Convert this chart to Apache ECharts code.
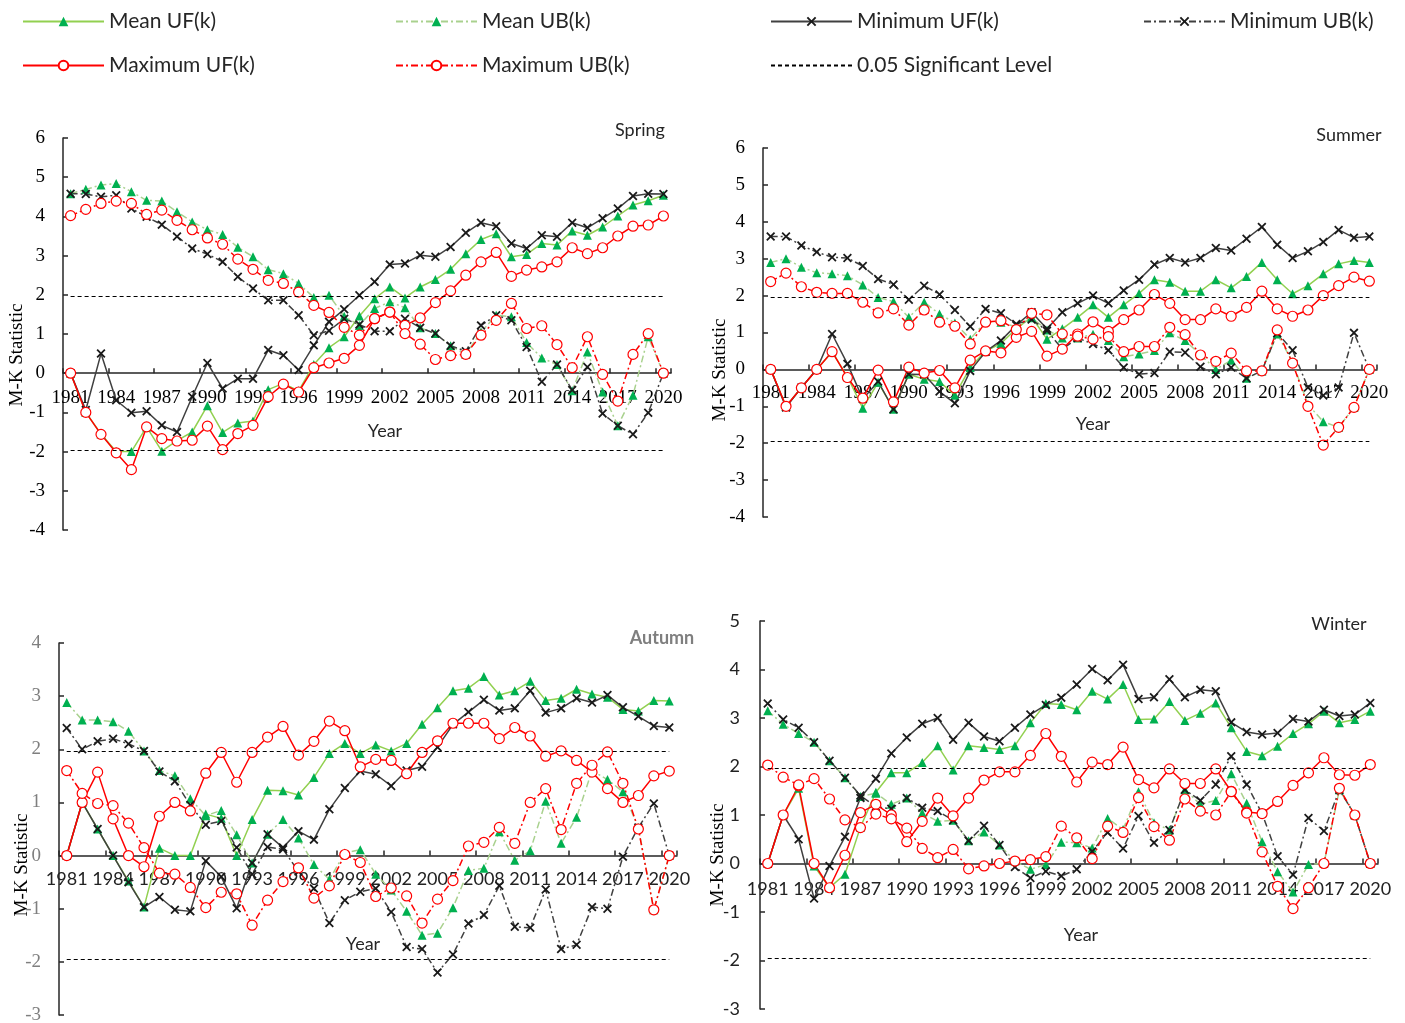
<!DOCTYPE html>
<html><head><meta charset="utf-8">
<script src="https://cdn.jsdelivr.net/npm/echarts@6/dist/echarts.min.js"></script>
<style>html,body{margin:0;padding:0;background:#fff}#c{width:1405px;height:1023px}</style>
</head><body><div id="c"></div>
<script>
const years = ['1981','1982','1983','1984','1985','1986','1987','1988','1989','1990','1991','1992','1993','1994','1995','1996','1997','1998','1999','2000','2001','2002','2003','2004','2005','2006','2007','2008','2009','2010','2011','2012','2013','2014','2015','2016','2017','2018','2019','2020'];
const sigLevel = 1.96;

const springMeanUF = [0,-1,-1.55,-2,-2,-1.37,-1.99,-1.72,-1.5,-0.83,-1.51,-1.27,-1.22,-0.42,-0.26,-0.45,0.22,0.65,0.93,1.46,1.9,2.2,1.92,2.2,2.39,2.65,3.05,3.41,3.56,2.97,3.03,3.31,3.27,3.63,3.52,3.73,4.01,4.29,4.4,4.54];
const springMeanUB = [4.58,4.69,4.8,4.84,4.63,4.41,4.39,4.12,3.86,3.66,3.54,3.21,2.97,2.64,2.54,2.29,1.93,1.99,1.45,1.22,1.65,1.82,1.67,1.16,1.01,0.7,0.48,1.05,1.48,1.44,0.78,0.39,0.22,-0.45,0.54,-0.48,-1.34,-0.56,0.93,0];
const springMinUF = [0,-0.94,0.5,-0.69,-1.01,-0.97,-1.33,-1.5,-0.6,0.26,-0.39,-0.14,-0.14,0.59,0.46,0.08,0.71,1.31,1.63,1.99,2.33,2.77,2.8,3.01,2.97,3.22,3.58,3.84,3.75,3.31,3.18,3.52,3.48,3.84,3.71,3.95,4.2,4.52,4.58,4.57];
const springMinUB = [4.58,4.57,4.5,4.54,4.2,3.99,3.79,3.49,3.18,3.04,2.84,2.46,2.16,1.86,1.86,1.48,0.97,1.08,1.39,1.24,1.07,1.07,1.39,1.16,1.01,0.7,0.56,1.22,1.48,1.35,0.67,-0.22,0.22,-0.43,0.16,-1.03,-1.34,-1.56,-1.01,0];
const springMaxUF = [0,-1,-1.56,-2.03,-2.46,-1.37,-1.67,-1.73,-1.71,-1.35,-1.95,-1.54,-1.33,-0.6,-0.28,-0.48,0.14,0.26,0.38,0.71,1.39,1.56,1.22,1.41,1.8,2.1,2.5,2.84,3.08,2.47,2.63,2.71,2.84,3.2,3.05,3.2,3.5,3.75,3.78,4.01];
const springMaxUB = [4.02,4.18,4.33,4.39,4.33,4.05,4.16,3.9,3.66,3.45,3.29,2.91,2.65,2.37,2.29,2.07,1.73,1.55,1.17,0.97,1.39,1.56,1.01,0.74,0.35,0.45,0.48,0.97,1.35,1.78,1.14,1.21,0.73,0.14,0.93,-0.03,-0.71,0.48,1.01,0];

const summerMeanUF = [0,-1,-0.5,0,0.48,-0.2,-1.05,-0.35,-1.08,-0.13,-0.27,-0.33,-0.7,0.05,0.5,0.7,1.1,1.42,0.82,1.1,1.41,1.75,1.41,1.75,2.06,2.43,2.36,2.12,2.12,2.43,2.21,2.52,2.9,2.43,2.05,2.27,2.59,2.86,2.95,2.9];
const summerMeanUB = [2.9,3,2.77,2.62,2.59,2.54,2.29,1.95,1.84,1.41,1.82,1.5,1.26,0.82,1.3,1.28,1.15,1.4,1.07,0.85,0.85,0.95,0.78,0.34,0.42,0.51,0.99,0.78,0.4,0,0.25,-0.24,-0.04,0.96,0.2,-0.95,-1.42,-1.57,-1.03,0];
const summerMinUF = [0,-1.03,-0.49,0,0.96,0.15,-0.8,-0.33,-1.08,-0.13,-0.14,-0.6,-0.92,-0.04,0.48,0.78,1.2,1.55,1.1,1.55,1.79,2,1.79,2.14,2.43,2.84,3.02,2.9,3.02,3.29,3.22,3.54,3.86,3.38,3.02,3.2,3.45,3.78,3.57,3.6];
const summerMinUB = [3.6,3.6,3.36,3.18,3.04,3.02,2.8,2.45,2.3,1.89,2.27,2.03,1.61,1.16,1.64,1.52,1.23,1.35,1.05,0.55,0.85,0.69,0.52,0.05,-0.13,-0.1,0.48,0.46,0.07,-0.13,0.05,-0.24,-0.04,0.98,0.52,-0.49,-0.71,-0.49,0.99,0];
const summerMaxUF = [0,-1,-0.5,0,0.48,-0.22,-0.78,-0.02,-0.88,0.06,-0.1,-0.03,-0.5,0.25,0.5,0.45,0.87,1.03,0.36,0.55,0.96,1.29,1.03,1.35,1.61,2.03,1.79,1.35,1.35,1.64,1.44,1.68,2.12,1.64,1.44,1.61,2,2.27,2.5,2.39];
const summerMaxUB = [2.38,2.61,2.24,2.09,2.06,2.06,1.82,1.53,1.64,1.2,1.61,1.28,1.17,0.69,1.28,1.32,1.08,1.52,1.48,0.96,0.9,0.82,0.89,0.48,0.62,0.62,1.14,0.94,0.39,0.22,0.44,-0.04,-0.04,1.07,0.17,-1,-2.05,-1.57,-1.03,0];

const autumnMeanUF = [0,1,0.5,0,-0.48,-0.97,0.14,0,0,0.78,0.7,0,0.68,1.23,1.22,1.14,1.47,1.92,2.11,1.92,2.08,1.97,2.11,2.47,2.78,3.1,3.15,3.37,3.02,3.1,3.28,2.92,2.96,3.13,3.04,2.98,2.75,2.72,2.92,2.91];
const autumnMeanUB = [2.88,2.55,2.55,2.52,2.34,1.97,1.6,1.5,1.07,0.75,0.85,0.39,-0.14,0.4,0.68,0.33,-0.17,-0.45,0.05,0.11,-0.35,-0.65,-1.05,-1.5,-1.46,-0.98,-0.28,-0.24,0.45,-0.09,0.09,1.02,0.23,0.72,1.6,1.43,1.2,0.53,-1.02,0];
const autumnMinUF = [0,1,0.5,0,-0.5,-0.97,-0.78,-1.02,-1.05,-0.1,-0.4,-0.99,-0.14,0.4,0.15,0.46,0.3,0.87,1.27,1.59,1.53,1.31,1.6,1.67,2.04,2.47,2.7,2.93,2.73,2.77,3.1,2.69,2.77,2.96,2.88,3.02,2.79,2.62,2.44,2.41];
const autumnMinUB = [2.4,2,2.15,2.2,2.1,1.97,1.58,1.4,0.95,0.58,0.65,0.15,-0.35,0.16,0.12,-0.3,-0.62,-1.27,-0.84,-0.68,-0.62,-1.06,-1.72,-1.76,-2.2,-1.86,-1.28,-1.12,-0.57,-1.34,-1.36,-0.64,-1.76,-1.68,-0.97,-1,-0.02,0.53,0.98,0];
const autumnMaxUF = [0,1,1.57,0.69,0,-0.21,0.74,1,0.84,1.55,1.94,1.38,1.94,2.23,2.43,1.89,2.15,2.53,2.35,1.67,1.81,1.79,1.54,1.94,2.16,2.49,2.49,2.49,2.2,2.41,2.25,1.87,1.97,1.79,1.57,1.26,1,1.13,1.5,1.59];
const autumnMaxUB = [1.6,1.17,0.98,0.94,0.61,0.15,-0.33,-0.35,-0.6,-0.98,-0.69,-0.72,-1.31,-0.84,-0.49,-0.23,-0.8,-0.57,0.02,-0.13,-0.77,-0.61,-0.76,-1.27,-0.82,-0.47,0.18,0.25,0.53,0.23,1,1.26,0.49,1.36,1.7,1.95,1.36,0.5,-1.02,0];

const winterMeanUF = [0,1,1.55,-0.05,-0.5,-0.22,0.75,1.47,1.87,1.87,2.08,2.43,1.93,2.43,2.39,2.35,2.43,2.9,3.3,3.28,3.17,3.55,3.39,3.69,2.97,2.98,3.34,2.95,3.1,3.31,2.8,2.31,2.22,2.42,2.68,2.88,3.14,2.9,2.97,3.14];
const winterMeanUB = [3.15,2.87,2.68,2.5,2.12,1.77,1.38,1.45,1.22,1.35,1.04,0.87,0.89,0.47,0.65,0.38,0.05,-0.12,-0.02,0.44,0.43,0.32,0.93,0.7,1.48,0.84,0.69,1.52,1.22,1.3,1.85,1.24,0.45,-0.17,-0.59,-0.02,0,1.52,1,0];
const winterMinUF = [0,1,0.5,-0.72,-0.05,0.55,1.35,1.75,2.27,2.6,2.88,3,2.55,2.9,2.62,2.52,2.8,3.07,3.27,3.42,3.69,4.01,3.78,4.1,3.39,3.43,3.8,3.43,3.58,3.55,2.91,2.71,2.66,2.69,2.98,2.93,3.17,3.04,3.07,3.31];
const winterMinUB = [3.3,2.97,2.8,2.5,2.12,1.77,1.4,1.17,1.13,1.35,1.15,1.08,0.89,0.47,0.78,0.38,-0.07,-0.3,-0.16,-0.26,-0.12,0.25,0.64,0.31,0.98,0.43,0.69,1.52,1.3,1.63,2.21,1.63,1.03,0.15,-0.23,0.94,0.67,1.52,1,0];
const winterMaxUF = [0,1,1.6,0,-0.5,0.17,1.05,1.22,1,0.45,0.87,1.35,0.98,1.35,1.72,1.89,1.89,2.23,2.68,2.21,1.68,2.09,2.04,2.4,1.73,1.56,1.95,1.65,1.65,1.95,1.49,1.06,1.03,1.28,1.61,1.87,2.18,1.83,1.82,2.04];
const winterMaxUB = [2.03,1.78,1.62,1.75,1.33,0.9,0.74,1.02,0.92,0.73,0.31,0.12,0.29,-0.11,-0.05,0,0.05,0.08,0.14,0.77,0.53,0.1,0.77,0.64,1.36,0.76,0.48,1.33,1.08,1,1.48,1.04,0.24,-0.47,-0.93,-0.5,0,1.55,1,0];

const SERIF = 'Liberation Serif';
const SANS = 'Lato';
const XSYM = 'path://M0,1.4L1.4,0L5,3.6L8.6,0L10,1.4L6.4,5L10,8.6L8.6,10L5,6.4L1.4,10L0,8.6L3.6,5Z';
const DASHDOT = [7,3,2,3];

const panels = [
  {title:'Spring', grid:{left:63,top:138,width:608,height:392}, min:-4, max:6,
   data:[springMeanUF,springMeanUB,springMinUF,springMinUB,springMaxUF,springMaxUB],
   xFont:SERIF, xSize:19, xMargin:15, xColor:'#000', yFont:SERIF, ySize:19, yColor:'#000', yMargin:18},
  {title:'Summer', grid:{left:763,top:148,width:614,height:369}, min:-4, max:6,
   data:[summerMeanUF,summerMeanUB,summerMinUF,summerMinUB,summerMaxUF,summerMaxUB],
   xFont:SERIF, xSize:19, xMargin:14, xColor:'#000', yFont:SERIF, ySize:19, yColor:'#000', yMargin:18},
  {title:'Autumn', grid:{left:59,top:643,width:618,height:372}, min:-3, max:4,
   data:[autumnMeanUF,autumnMeanUB,autumnMinUF,autumnMinUB,autumnMaxUF,autumnMaxUB],
   xFont:SANS, xSize:18, xMargin:15, xColor:'#222', yFont:SERIF, ySize:19, yColor:'#7f7f7f', yMargin:18},
  {title:'Winter', grid:{left:760,top:621,width:618,height:388}, min:-3, max:5,
   data:[winterMeanUF,winterMeanUB,winterMinUF,winterMinUB,winterMaxUF,winterMaxUB],
   xFont:SANS, xSize:18, xMargin:17, xColor:'#222', yFont:SANS, ySize:18, yColor:'#222', yMargin:20}
];

const styles = [
  {name:'Mean UF(k)', line:{color:'#92D050',width:1.5,type:'solid'}, symbol:'triangle', size:9, item:{color:'#00B050'}},
  {name:'Mean UB(k)', line:{color:'#A9D18E',width:1.5,type:DASHDOT}, symbol:'triangle', size:9, item:{color:'#00B050'}},
  {name:'Minimum UF(k)', line:{color:'#404040',width:1.5,type:'solid'}, symbol:XSYM, size:9, item:{color:'#1a1a1a'}},
  {name:'Minimum UB(k)', line:{color:'#404040',width:1.5,type:DASHDOT}, symbol:XSYM, size:9, item:{color:'#1a1a1a'}},
  {name:'Maximum UF(k)', line:{color:'#FF0000',width:1.5,type:'solid'}, symbol:'circle', size:10, item:{color:'#ffffff',borderColor:'#FF0000',borderWidth:1.2}},
  {name:'Maximum UB(k)', line:{color:'#FF0000',width:1.5,type:DASHDOT}, symbol:'circle', size:10, item:{color:'#ffffff',borderColor:'#FF0000',borderWidth:1.2}}
];
const SIGNAME = '0.05 Significant Level';

const grids = [], xAxes = [], yAxes = [], series = [];
panels.forEach((p, gi) => {
  grids.push(Object.assign({containLabel:false, outerBoundsMode:'none'}, p.grid));
  // move the category axis up to the zero line of the value axis
  const zeroOffset = -p.grid.height * (0 - p.min) / (p.max - p.min);
  xAxes.push({type:'category', gridIndex:gi, data:years, boundaryGap:true, position:'bottom', offset:zeroOffset,
    axisLine:{onZero:false, lineStyle:{color:'#262626', width:1.5}},
    axisTick:{show:true, inside:true, length:5, interval:2, lineStyle:{color:'#262626', width:1.5}},
    axisLabel:{interval:2, margin:p.xMargin, fontFamily:p.xFont, fontSize:p.xSize, color:p.xColor, hideOverlap:false},
    splitLine:{show:false}});
  yAxes.push({type:'value', gridIndex:gi, min:p.min, max:p.max, interval:1,
    axisLine:{show:true, onZero:false, lineStyle:{color:'#262626', width:1.5}},
    axisTick:{show:true, inside:true, length:5, lineStyle:{color:'#262626', width:1.5}},
    axisLabel:{margin:p.yMargin, fontFamily:p.yFont, fontSize:p.ySize, color:p.yColor},
    splitLine:{show:false}});
  styles.forEach((s, si) => {
    series.push({type:'line', name:s.name, xAxisIndex:gi, yAxisIndex:gi, data:p.data[si],
      symbol:s.symbol, symbolSize:s.size, showAllSymbol:true, lineStyle:s.line, itemStyle:s.item,
      emphasis:{disabled:true}, silent:true});
  });
  series.push({type:'line', name:SIGNAME, xAxisIndex:gi, yAxisIndex:gi, data:[],
    symbol:'none', symbolSize:0, lineStyle:{color:'#000', width:1.2, type:[4,3]}, itemStyle:{color:'#000'}, silent:true,
    markLine:{silent:true, symbol:'none', label:{show:false}, lineStyle:{color:'#000', width:1.2, type:[4,3]},
      data:[[{coord:[years[0], sigLevel]},{coord:[years[years.length-1], sigLevel]}],
            [{coord:[years[0], -sigLevel]},{coord:[years[years.length-1], -sigLevel]}]]}});
});

const legendPos = [
  ['Mean UF(k)',17,6],['Mean UB(k)',390,6],['Minimum UF(k)',765,6],['Minimum UB(k)',1138,6],
  ['Maximum UF(k)',17,50],['Maximum UB(k)',390,50],[SIGNAME,765,50]
];
const legends = legendPos.map(l => {
  const lg = {data:[l[0]], left:l[1], top:l[2], itemWidth:81, itemHeight:12, itemGap:0,
    selectedMode:false, textStyle:{fontFamily:SANS, fontSize:21, color:'#262626'}};
  if (l[0] === SIGNAME) lg.itemStyle = {opacity:0};
  return lg;
});

const texts = [
  {t:'Spring', x:640, y:130, c:'#262626', w:'normal'},
  {t:'Summer', x:1349, y:135, c:'#262626', w:'normal'},
  {t:'Autumn', x:662, y:638, c:'#7f7f7f', w:'bold'},
  {t:'Winter', x:1339, y:624, c:'#262626', w:'normal'},
  {t:'Year', x:385, y:431, c:'#262626', w:'normal'},
  {t:'Year', x:1093, y:424, c:'#262626', w:'normal'},
  {t:'Year', x:363, y:944, c:'#262626', w:'normal'},
  {t:'Year', x:1081, y:935, c:'#262626', w:'normal'}
];
const graphics = texts.map(o => ({type:'text', x:o.x, y:o.y, silent:true,
  style:{text:o.t, fontFamily:SANS, fontSize:18, fontWeight:o.w, fill:o.c, align:'center', verticalAlign:'middle'}}));
[[17,355],[720,370],[22,865],[718,855]].forEach(p => graphics.push({type:'text', x:p[0], y:p[1], rotation:Math.PI/2, silent:true,
  style:{text:'M-K Statistic', fontFamily:SERIF, fontSize:19, fill:'#000', align:'center', verticalAlign:'middle'}}));

const chart = echarts.init(document.getElementById('c'), null, {renderer:'canvas'});
chart.setOption({animation:false, backgroundColor:'#fff', grid:grids, xAxis:xAxes, yAxis:yAxes,
  series:series, legend:legends, graphic:graphics, tooltip:{show:false}});
</script></body></html>
